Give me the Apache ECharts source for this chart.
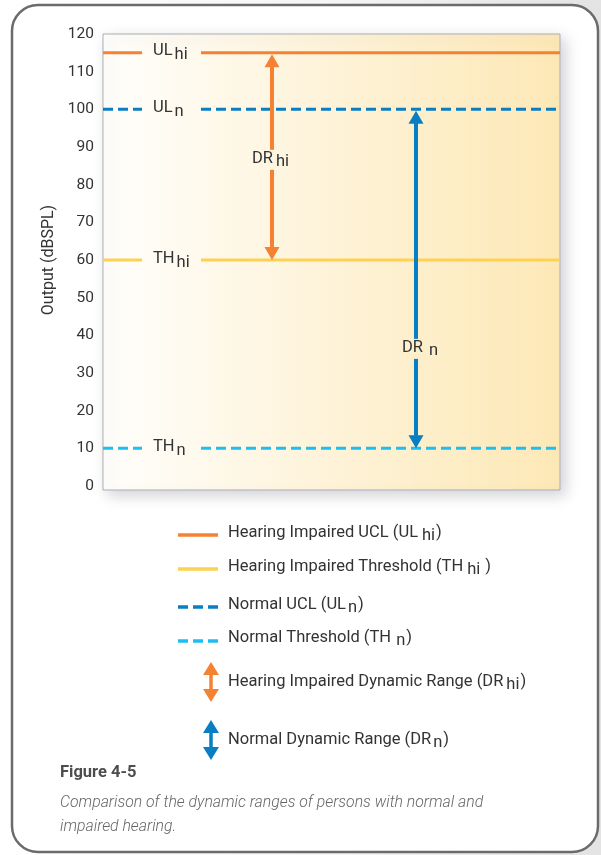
<!DOCTYPE html>
<html><head><meta charset="utf-8">
<script src="https://cdn.jsdelivr.net/npm/echarts/dist/echarts.min.js"></script>
<style>
html,body{margin:0;padding:0;}
body{width:601px;height:855px;background:linear-gradient(to right,#ffffff 0%,#f5f5f5 55%,#e3e3e3 100%);overflow:hidden;}
#chart{width:601px;height:855px;}
</style>
</head><body><div id="chart"></div>
<script>
// ---------------- data ----------------
const yMin = 0, yMax = 120, yInterval = 10;
const xMin = 0, xMax = 100;
const yAxisName = 'Output (dBSPL)';
const levelNames = ['ULhi', 'THhi', 'ULn', 'THn'];
const levelMain = ['UL', 'TH', 'UL', 'TH'];
const levelSub = ['hi', 'hi', 'n', 'n'];
const levelValues = [115, 60, 100, 10];
const rangeNames = ['DRhi', 'DRn'];
const rangeMain = ['DR', 'DR'];
const rangeSub = ['hi', 'n'];
const rangeFrom = [115, 100];
const rangeTo = [60, 10];
const legendMain = ['Hearing Impaired UCL (UL', 'Hearing Impaired Threshold (TH', 'Normal UCL (UL', 'Normal Threshold (TH', 'Hearing Impaired Dynamic Range (DR', 'Normal Dynamic Range (DR'];
const legendSub = ['hi', 'hi', 'n', 'n', 'hi', 'n'];
const legendTail = [')', ' )', ')', ')', ')', ')'];
const captionTitle = 'Figure 4-5';
const captionLines = ['Comparison of the dynamic ranges of persons with normal and', 'impaired hearing.'];

// ---------------- styles / layout ----------------
const FONT = 'Roboto';
const TXT = '#333333';
const levelColors = ['#F58232', '#FDD152', '#0A7EC2', '#1CBFEF'];
const levelDash = [null, null, [10, 5], [10, 5]];
const rangeColors = ['#F58232', '#0A7EC2'];
const legendKinds = ['line', 'line', 'line', 'line', 'arrow', 'arrow'];
const legendColors = ['#F58232', '#FDD152', '#0A7EC2', '#1CBFEF', '#F58232', '#0A7EC2'];
const legendDash = [null, null, [10, 5], [10, 5], null, null];
const legendTextY = [533, 567, 605, 638, 682, 740];
const legendIconY = [535, 569, 607, 641, 682, 740];
const legendSubGap = [4, 4, 2, 5, 3, 2];
const L = {
  gridLeft: 103, gridTop: 34, gridW: 457, gridH: 452,
  gapStart: 39, gapEnd: 98, labelX: 50, labelDy: -1.5, subGap: 2, subDy: 4,
  arrowX: [169, 313], arrowLabelAt: [86.6, 36.4], arrowLabelHalf: 10,
  arrowLabelStart: [-20, -14], arrowLabelGap: [3, 6],
  headW: 15, headH: 13
};

const ctx = document.createElement('canvas').getContext('2d');
function tw(text, font) { ctx.font = font; return ctx.measureText(text).width; }
function textEl(x, y, text, font, fill, extra) {
  return Object.assign({
    type: 'text', x: x, y: y,
    style: { text: text, font: font, fill: fill, textAlign: 'left', align: 'left', textVerticalAlign: 'middle', verticalAlign: 'middle' }
  }, extra || {});
}
function subText(x, y, main, sub, tail, font, fill, gap, dy, tailGap, extra) {
  const out = [];
  out.push(textEl(x, y, main, font, fill, extra));
  let cx = x + tw(main, font) + gap;
  out.push(textEl(cx, y + dy, sub, font, fill, extra));
  if (tail) {
    cx += tw(sub, font) + (tailGap || 0);
    out.push(textEl(cx, y, tail, font, fill, extra));
  }
  return out;
}
function arrowShape(x, yTop, yBot, color, lw, hw, hh, gapTop, gapBot) {
  const els = [];
  els.push({ type: 'polygon', shape: { points: [[x, yTop], [x - hw / 2, yTop + hh], [x + hw / 2, yTop + hh]] }, style: { fill: color } });
  els.push({ type: 'polygon', shape: { points: [[x, yBot], [x - hw / 2, yBot - hh], [x + hw / 2, yBot - hh]] }, style: { fill: color } });
  if (gapTop != null) {
    els.push({ type: 'line', shape: { x1: x, y1: yTop + hh - 1, x2: x, y2: gapTop }, style: { stroke: color, lineWidth: lw } });
    els.push({ type: 'line', shape: { x1: x, y1: gapBot, x2: x, y2: yBot - hh + 1 }, style: { stroke: color, lineWidth: lw } });
  } else {
    els.push({ type: 'line', shape: { x1: x, y1: yTop + hh - 1, x2: x, y2: yBot - hh + 1 }, style: { stroke: color, lineWidth: lw } });
  }
  return els;
}

const chart = echarts.init(document.getElementById('chart'), null, { renderer: 'canvas' });

const series = [];
levelValues.forEach(function (v, i) {
  series.push({
    type: 'custom', name: levelNames[i], coordinateSystem: 'cartesian2d', silent: true, clip: false, z: 3,
    data: [[xMin, v]],
    renderItem: function (params, api) {
      const val = api.value(1);
      const p0 = api.coord([xMin, val]);
      const p1 = api.coord([xMax, val]);
      const y = p0[1];
      const st = { stroke: levelColors[i], lineWidth: 3, lineDash: levelDash[i] || null, lineCap: 'butt' };
      const font = '16.5px ' + FONT;
      const kids = [
        { type: 'line', shape: { x1: p0[0], y1: y, x2: p0[0] + L.gapStart, y2: y }, style: st },
        { type: 'line', shape: { x1: p0[0] + L.gapEnd, y1: y, x2: p1[0], y2: y }, style: st }
      ].concat(subText(p0[0] + L.labelX, y + L.labelDy, levelMain[i], levelSub[i], null, font, TXT, L.subGap, L.subDy));
      return { type: 'group', children: kids };
    }
  });
});
rangeFrom.forEach(function (f, i) {
  series.push({
    type: 'custom', name: rangeNames[i], coordinateSystem: 'cartesian2d', silent: true, clip: false, z: 4,
    data: [[f, rangeTo[i]]],
    renderItem: function (params, api) {
      const from = api.value(0), to = api.value(1);
      const x = api.coord([xMin, yMin])[0] + L.arrowX[i];
      const yTop = api.coord([xMin, from])[1] + 1.5;
      const yBot = api.coord([xMin, to])[1];
      const yLab = api.coord([xMin, L.arrowLabelAt[i]])[1];
      const font = '16.5px ' + FONT;
      const kids = arrowShape(x, yTop, yBot, rangeColors[i], 4, L.headW, L.headH, yLab - L.arrowLabelHalf, yLab + L.arrowLabelHalf)
        .concat(subText(x + L.arrowLabelStart[i], yLab - 1, rangeMain[i], rangeSub[i], null, font, TXT, L.arrowLabelGap[i], 3));
      return { type: 'group', children: kids };
    }
  });
});

// legend + frame + caption graphics
const graphics = [];
graphics.push({ type: 'rect', z: -20, shape: { x: 12, y: 5, width: 586, height: 847, r: 26 }, style: { fill: '#ffffff', stroke: '#6b6b6b', lineWidth: 2.5 } });
graphics.push({
  type: 'rect', z: -10, shape: { x: L.gridLeft, y: L.gridTop, width: L.gridW, height: 456 },
  style: {
    fill: new echarts.graphic.LinearGradient(0, 0, 1, 0, [{ offset: 0, color: '#FFFEFB' }, { offset: 1, color: '#FDE8B6' }]),
    stroke: '#A9AEB4', lineWidth: 1,
    shadowBlur: 14, shadowOffsetX: 5, shadowOffsetY: 5, shadowColor: 'rgba(60,60,80,0.22)'
  }
});
const lgFont = '16.5px ' + FONT;
legendMain.forEach(function (m, i) {
  if (legendKinds[i] === 'line') {
    graphics.push({ type: 'line', shape: { x1: 178, y1: legendIconY[i], x2: 218, y2: legendIconY[i] }, style: { stroke: legendColors[i], lineWidth: 3.5, lineDash: legendDash[i] || null } });
  } else {
    arrowShape(211, legendIconY[i] - 20, legendIconY[i] + 20, legendColors[i], 3.5, 16, 13).forEach(function (e) { graphics.push(e); });
  }
  subText(228, legendTextY[i], m, legendSub[i], legendTail[i], lgFont, TXT, legendSubGap[i], 3, 1).forEach(function (e) { graphics.push(e); });
});
graphics.push(textEl(60, 773, captionTitle, 'bold 16.5px ' + FONT, '#4d4d4d'));
captionLines.forEach(function (t, k) {
  graphics.push(textEl(60, 803 + k * 24, t, 'italic 300 15.8px ' + FONT, '#666666'));
});

chart.setOption({
  animation: false,
  backgroundColor: 'transparent',
  grid: { left: L.gridLeft, top: L.gridTop, width: L.gridW, height: L.gridH, containLabel: false },
  xAxis: { type: 'value', min: xMin, max: xMax, show: false },
  yAxis: {
    type: 'value', min: yMin, max: yMax, interval: yInterval,
    name: yAxisName, nameLocation: 'middle', nameRotate: 90, nameGap: 45,
    nameTextStyle: { color: TXT, fontSize: 16, fontFamily: FONT },
    axisLine: { show: false }, axisTick: { show: false }, splitLine: { show: false },
    axisLabel: { color: TXT, fontSize: 15.5, fontFamily: FONT, margin: 9 }
  },
  graphic: graphics,
  series: series
});
</script>
</body></html>
